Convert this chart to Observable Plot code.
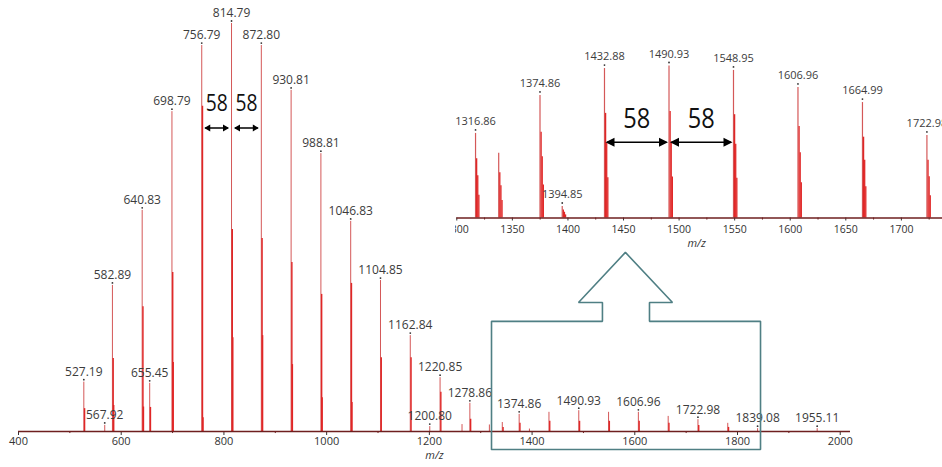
<!DOCTYPE html>
<html><head><meta charset="utf-8">
<script src="https://cdn.jsdelivr.net/npm/d3@7"></script>
<script src="https://cdn.jsdelivr.net/npm/@observablehq/plot@0.6"></script>
<style>
html,body{margin:0;padding:0;background:#fff;overflow:hidden;}
#wrap{position:relative;width:942px;height:467px;}
#main{position:absolute;left:0;top:0;}
#inset{position:absolute;left:455px;top:0;width:487px;height:262px;overflow:hidden;}
</style></head><body>
<div id="wrap"><div id="main"></div><div id="inset"></div></div>
<script>
// ---------- main spectrum ----------
const mainMz   = [527.19, 567.92, 582.89, 640.83, 655.45, 698.79, 756.79, 814.79, 872.80, 930.81, 988.81, 1046.83, 1104.85, 1162.84, 1200.80, 1220.85, 1263.6, 1278.86, 1316.86, 1342.0, 1374.86, 1394.85, 1432.88, 1490.93, 1548.95, 1606.96, 1664.99, 1722.98, 1781.0, 1839.08, 1955.11];
const mainTop  = [12.1, 1.5, 35.8, 54.2, 11.8, 78.4, 94.6, 100, 94.6, 83.6, 68.1, 51.5, 37.0, 23.5, 1.2, 13.2, 1.7, 6.9, 1.6, 2.2, 4.2, 0.6, 4.7, 5.1, 4.7, 4.7, 3.7, 2.9, 2.0, 0.7, 0.7];
const mainIso2 = [5.6, 0, 17.9, 30.6, 5.9, 39.0, 79.7, 49.5, 47.3, 41.4, 33.6, 36.3, 18.1, 18.1, 0, 9.6, 0, 3.0, 0, 1.0, 2.0, 0, 2.5, 2.5, 2.5, 2.5, 2.0, 1.5, 1.0, 0, 0];
const mainIso3 = [0, 0, 6.4, 6.0, 0, 16.9, 3.4, 23.0, 23.5, 16.4, 8.3, 7.1, 0, 0, 0, 0, 0, 0, 0, 0, 0, 0, 0, 0, 0, 0, 0, 0, 0, 0, 0];
const mainLabelled = [527.19, 567.92, 582.89, 640.83, 655.45, 698.79, 756.79, 814.79, 872.80, 930.81, 988.81, 1046.83, 1104.85, 1162.84, 1200.80, 1220.85, 1278.86, 1374.86, 1490.93, 1606.96, 1722.98, 1839.08, 1955.11];
const mainTicks = [400, 600, 800, 1000, 1200, 1400, 1600, 1800, 2000];
const mainMinorTicks = [500, 700, 900, 1100, 1300, 1500, 1700, 1900];
// spacing annotation (Δ = 58)
const mainSpanFrom = [756.79, 814.79];
const mainSpanTo   = [814.79, 872.80];
const mainSpanText = ["58", "58"];
const mainSpanLevel = 74.4, mainSpanTextLevel = 80.4;
// zoom call-out outline (box + hollow arrow), in m/z and intensity units
const calloutMz    = [1321, 1321, 1537, 1537, 1490.4, 1581.7, 1673.4, 1628.6, 1628.6, 1844.8, 1844.8, 1321];
const calloutLevel = [-4.4, 27, 27, 31.6, 31.6, 43.9, 31.6, 31.6, 27, 27, -4.4, -4.4];

// ---------- inset (zoom) ----------
const insetMz  = [1316.86, 1337.7, 1374.86, 1394.85, 1432.88, 1490.93, 1548.95, 1606.96, 1664.99, 1722.98];
const insetTop = [53.7, 41.1, 77.8, 7.3, 94.9, 96.5, 93.7, 82.9, 73.3, 52.4];
const insetLabelled = [1316.86, 1374.86, 1394.85, 1432.88, 1490.93, 1548.95, 1606.96, 1664.99, 1722.98];
const insetIsoOffset = [1, 2, 3];
const insetIsoRatio  = [0.7, 0.5, 0.27];
const insetTicks = [1300, 1350, 1400, 1450, 1500, 1550, 1600, 1650, 1700];
const insetMinorTicks = [1325, 1375, 1425, 1475, 1525, 1575, 1625, 1675, 1725];
const insetSpanFrom = [1432.88, 1490.93];
const insetSpanTo   = [1490.93, 1548.95];
const insetSpanText = ["58", "58"];
const insetSpanLevel = 48.1, insetSpanTextLevel = 63;

// ---------- styling ----------
const RED_THIN = "#d45858", RED = "#e02626", AXIS = "#6e1f1f", CALLOUT = "#4f7f84";
const FONT = "'Open Sans', sans-serif";

function head(dir, L, W) {
  return {draw(ctx) { ctx.moveTo(0, 0); ctx.lineTo(-dir * L, -W / 2); ctx.lineTo(-dir * L, W / 2); ctx.closePath(); }};
}
function narrow(svg, txt, len) {
  d3.select(svg).selectAll("text").filter(function () { return this.textContent === txt; })
    .attr("textLength", len).attr("lengthAdjust", "spacingAndGlyphs");
}

// tables
const mainPeaks = mainMz.map((mz, i) => ({mz, top: mainTop[i], iso2: mainIso2[i], iso3: mainIso3[i]}));
const mainIsoRows = [];
mainPeaks.forEach(p => {
  if (p.iso2) mainIsoRows.push({mz: p.mz + 1.5, h: p.iso2});
  if (p.iso3) mainIsoRows.push({mz: p.mz + 2.5, h: p.iso3});
});
const mainLabelRows = mainPeaks.filter(p => mainLabelled.includes(p.mz));
const mainSpans = mainSpanFrom.map((a, i) => ({a, b: mainSpanTo[i], t: mainSpanText[i]}));
const callout = calloutMz.map((mz, i) => ({mz, v: calloutLevel[i]}));

const main = Plot.plot({
  width: 942, height: 467,
  marginLeft: 18, marginRight: 92, marginTop: 23, marginBottom: 36,
  style: {fontFamily: FONT, fontSize: "11px", color: "#333", background: "transparent"},
  x: {domain: [400, 2020], ticks: mainTicks, tickSize: 4, tickPadding: 2, tickFormat: d => String(d), label: null},
  y: {domain: [0, 100], axis: null},
  marks: [
    Plot.ruleX(mainMinorTicks, {x: d => d, y1: 0, y2: -0.5, stroke: AXIS}),
    Plot.ruleX(mainPeaks, {x: "mz", y1: 0, y2: "top", stroke: RED_THIN, strokeWidth: 1}),
    Plot.ruleX(mainIsoRows, {x: "mz", y1: 0, y2: "h", stroke: RED, strokeWidth: 1.4}),
    Plot.ruleY([0], {stroke: AXIS, strokeWidth: 1.6}),
    Plot.dot(mainLabelRows, {x: "mz", y: "top", dy: -2.5, r: 0.9, fill: "#333", stroke: null}),
    Plot.text(mainLabelRows, {x: "mz", y: "top", dy: -10, text: d => d.mz.toFixed(2), fontSize: 12, fill: "#3c3c3c"}),
    Plot.line(callout, {x: "mz", y: "v", stroke: CALLOUT, strokeWidth: 1.6, strokeLinejoin: "miter"}),
    Plot.arrow(mainSpans, {x1: "a", x2: "b", y1: () => mainSpanLevel, y2: () => mainSpanLevel, headLength: 0, insetStart: 4, insetEnd: 4, stroke: "black", strokeWidth: 1.4}),
    Plot.dot(mainSpans, {x: "a", y: () => mainSpanLevel, dx: 2.5, r: 3, symbol: head(-1, 6, 7), fill: "black", stroke: null}),
    Plot.dot(mainSpans, {x: "b", y: () => mainSpanLevel, dx: -2.5, r: 3, symbol: head(1, 6, 7), fill: "black", stroke: null}),
    Plot.text(mainSpans, {x: d => (d.a + d.b) / 2, y: () => mainSpanTextLevel, text: "t", fontSize: 24, fill: "#111"}),
    Plot.text(["m/z"], {frameAnchor: "bottom", dy: 27, text: d => d, fontStyle: "italic", fontSize: 11, fill: "#333"})
  ]
});
narrow(main, "58", 22);
document.getElementById("main").appendChild(main);

// inset tables
const insetPeaks = insetMz.map((mz, i) => ({mz, top: insetTop[i]}));
const insetIsoRows = [];
insetPeaks.forEach(p => insetIsoOffset.forEach((o, j) => insetIsoRows.push({mz: p.mz + o, h: p.top * insetIsoRatio[j]})));
const insetLabelRows = insetPeaks.filter(p => insetLabelled.includes(p.mz));
const insetSpans = insetSpanFrom.map((a, i) => ({a, b: insetSpanTo[i], t: insetSpanText[i]}));

const inset = Plot.plot({
  width: 487, height: 262,
  marginLeft: 1.3, marginRight: 0, marginTop: 60, marginBottom: 44.5,
  style: {fontFamily: FONT, fontSize: "10.5px", color: "#333", background: "transparent"},
  x: {domain: [1300, 1737], ticks: insetTicks, tickSize: 3, tickPadding: 5, tickFormat: d => String(d), label: null},
  y: {domain: [0, 100], axis: null},
  marks: [
    Plot.ruleX(insetMinorTicks, {x: d => d, y1: 0, y2: -1.3, stroke: AXIS}),
    Plot.ruleX(insetPeaks, {x: "mz", y1: 0, y2: "top", stroke: RED_THIN, strokeWidth: 1.2}),
    Plot.ruleX(insetIsoRows, {x: "mz", y1: 0, y2: "h", stroke: RED, strokeWidth: 1.3}),
    Plot.ruleY([0], {stroke: AXIS, strokeWidth: 1.6}),
    Plot.dot(insetLabelRows, {x: "mz", y: "top", dy: -3.5, r: 0.9, fill: "#333", stroke: null}),
    Plot.text(insetLabelRows, {x: "mz", y: "top", dy: -12, text: d => d.mz.toFixed(2), fontSize: 11, fill: "#3c3c3c"}),
    Plot.arrow(insetSpans, {x1: "a", x2: "b", y1: () => insetSpanLevel, y2: () => insetSpanLevel, headLength: 0, insetStart: 3, insetEnd: 3, stroke: "black", strokeWidth: 1.4}),
    Plot.dot(insetSpans, {x: "a", y: () => insetSpanLevel, dx: 1, r: 3, symbol: head(-1, 9, 9), fill: "black", stroke: null}),
    Plot.dot(insetSpans, {x: "b", y: () => insetSpanLevel, dx: -1, r: 3, symbol: head(1, 9, 9), fill: "black", stroke: null}),
    Plot.text(insetSpans, {x: d => (d.a + d.b) / 2, y: () => insetSpanTextLevel, text: "t", fontSize: 28, fill: "#111"}),
    Plot.text(["m/z"], {frameAnchor: "bottom", dy: 28.5, dx: -3, text: d => d, fontStyle: "italic", fontSize: 11, fill: "#333"})
  ]
});
narrow(inset, "58", 27);
document.getElementById("inset").appendChild(inset);
</script>
</body></html>
